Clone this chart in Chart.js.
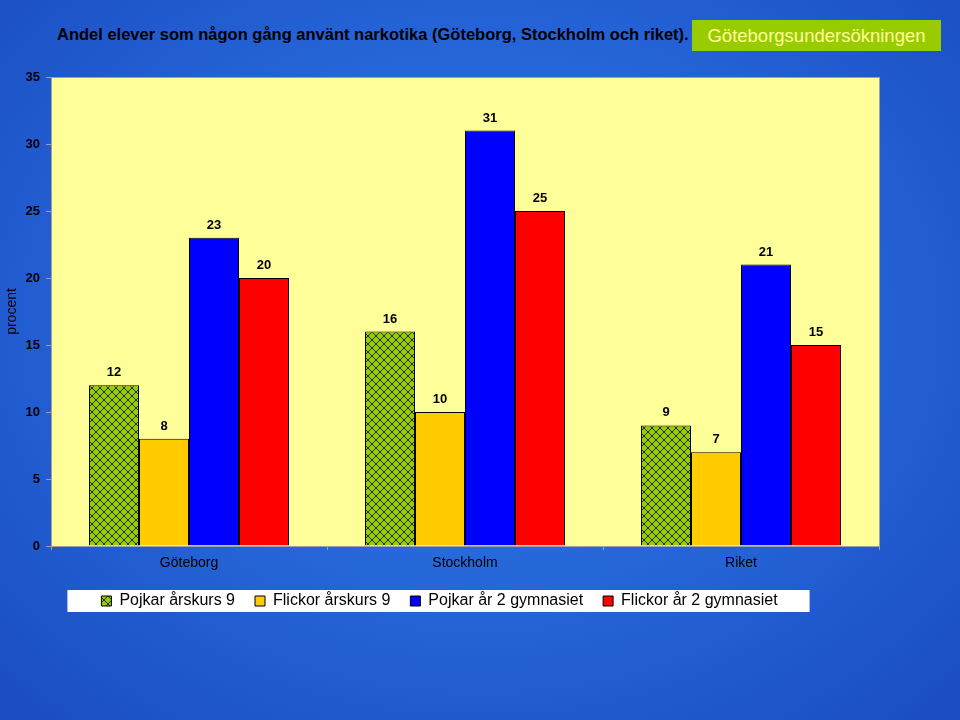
<!DOCTYPE html>
<html>
<head>
<meta charset="utf-8">
<script src="https://cdn.jsdelivr.net/npm/chart.js@4.4.1/dist/chart.umd.min.js"></script>
<style>
  html, body { margin: 0; padding: 0; }
  body {
    width: 960px; height: 720px; overflow: hidden; position: relative;
    background: radial-gradient(ellipse 70% 75% at 50% 45%, #2d7de8 0%, #2668da 45%, #1b4dc3 100%);
    font-family: "Liberation Sans", Arial, sans-serif;
  }
  #title {
    position: absolute; left: 57px; top: 25px; font-size: 16.5px; font-weight: bold; color: #000;
    white-space: nowrap;
  }
  #badge {
    position: absolute; left: 692px; top: 20px; width: 249px; height: 31px; background: #99cc00;
    color: #ffff99; font-size: 18.5px; line-height: 32px; text-align: center; white-space: nowrap;
  }
  #c { position: absolute; left: 0; top: 0; }
</style>
</head>
<body>
<div id="title">Andel elever som någon gång använt narkotika (Göteborg, Stockholm och riket).</div>
<div id="badge">Göteborgsundersökningen</div>
<canvas id="c" width="960" height="720"></canvas>
<script>
const categories = ["Göteborg", "Stockholm", "Riket"];
const seriesNames = ["Pojkar årskurs 9", "Flickor årskurs 9", "Pojkar år 2 gymnasiet", "Flickor år 2 gymnasiet"];
const pojkarAk9 = [12, 16, 9];
const flickorAk9 = [8, 10, 7];
const pojkarGy2 = [23, 31, 21];
const flickorGy2 = [20, 25, 15];
const yTicks = [0, 5, 10, 15, 20, 25, 30, 35];

function makeHatch() {
  const s = 8;
  const pc = document.createElement('canvas');
  pc.width = s; pc.height = s;
  const g = pc.getContext('2d');
  g.fillStyle = '#99cc00';
  g.fillRect(0, 0, s, s);
  g.strokeStyle = '#22300c';
  g.lineWidth = 1;
  g.beginPath();
  g.moveTo(0, 0); g.lineTo(s, s);
  g.moveTo(s, 0); g.lineTo(0, s);
  g.stroke();
  return g.createPattern(pc, 'repeat');
}
const hatch = makeHatch();

const plotBg = {
  id: 'plotBg',
  beforeDraw(chart) {
    const {ctx, chartArea: a} = chart;
    ctx.save();
    ctx.fillStyle = '#ffff99';
    ctx.fillRect(a.left, a.top, a.right - a.left, a.bottom - a.top);
    ctx.strokeStyle = '#a0a0a0';
    ctx.lineWidth = 1;
    ctx.strokeRect(a.left + 0.5, a.top + 0.5, a.right - a.left, a.bottom - a.top);
    const lg = chart.legend;
    if (lg && lg.legendHitBoxes && lg.legendHitBoxes.length) {
      let minX = Infinity, maxX = -Infinity, minY = Infinity, maxY = -Infinity;
      lg.legendHitBoxes.forEach(h => {
        minX = Math.min(minX, h.left); maxX = Math.max(maxX, h.left + h.width);
        minY = Math.min(minY, h.top); maxY = Math.max(maxY, h.top + h.height);
      });
      const cy = (minY + maxY) / 2;
      ctx.fillStyle = '#ffffff';
      ctx.fillRect(minX - 34, cy - 11, (maxX - minX) + 66, 22);
    }
    ctx.restore();
  }
};

const valueLabels = {
  id: 'valueLabels',
  afterDatasetsDraw(chart) {
    const {ctx} = chart;
    ctx.save();
    ctx.font = 'bold 13px "Liberation Sans", Arial, sans-serif';
    ctx.fillStyle = '#000';
    ctx.textAlign = 'center';
    ctx.textBaseline = 'bottom';
    chart.data.datasets.forEach((ds, i) => {
      chart.getDatasetMeta(i).data.forEach((bar, j) => {
        ctx.fillText(String(ds.data[j]), bar.x, bar.y - 6);
      });
    });
    ctx.restore();
  }
};

const mk = (label, data, color) => ({
  label, data, backgroundColor: color, borderColor: '#000', borderWidth: 1,
  categoryPercentage: 0.7246, barPercentage: 1
});

new Chart(document.getElementById('c'), {
  type: 'bar',
  data: {
    labels: categories,
    datasets: [
      mk(seriesNames[0], pojkarAk9, hatch),
      mk(seriesNames[1], flickorAk9, '#ffcc00'),
      mk(seriesNames[2], pojkarGy2, '#0000ff'),
      mk(seriesNames[3], flickorGy2, '#ff0000')
    ]
  },
  options: {
    responsive: false,
    animation: false,
    layout: { padding: { left: 0, right: 81, top: 77, bottom: 101 } },
    plugins: {
      tooltip: { enabled: false },
      legend: {
        position: 'bottom',
        labels: {
          boxWidth: 10, boxHeight: 10, padding: 20,
          color: '#000',
          font: { family: '"Liberation Sans", Arial, sans-serif', size: 16 }
        }
      }
    },
    scales: {
      x: {
        grid: { display: true, drawOnChartArea: false, offset: true, color: '#a0a0a0', tickLength: 4 },
        border: { display: true, color: '#a0a0a0' },
        ticks: { color: '#000', padding: 5, font: { family: '"Liberation Sans", Arial, sans-serif', size: 14 } },
        afterFit(s) { s.height = 27; }
      },
      y: {
        min: 0, max: 35,
        afterBuildTicks(s) { s.ticks = yTicks.map(v => ({ value: v })); },
        grid: { display: true, drawOnChartArea: false, color: '#a0a0a0', tickLength: 5 },
        border: { display: true, color: '#a0a0a0' },
        ticks: { color: '#000', padding: 6, font: { family: '"Liberation Sans", Arial, sans-serif', size: 13, weight: 'bold' } },
        title: { display: true, text: 'procent', color: '#000', font: { family: '"Liberation Sans", Arial, sans-serif', size: 14 } },
        afterFit(s) { s.width = 51; }
      }
    }
  },
  plugins: [plotBg, valueLabels]
});
</script>
</body>
</html>
